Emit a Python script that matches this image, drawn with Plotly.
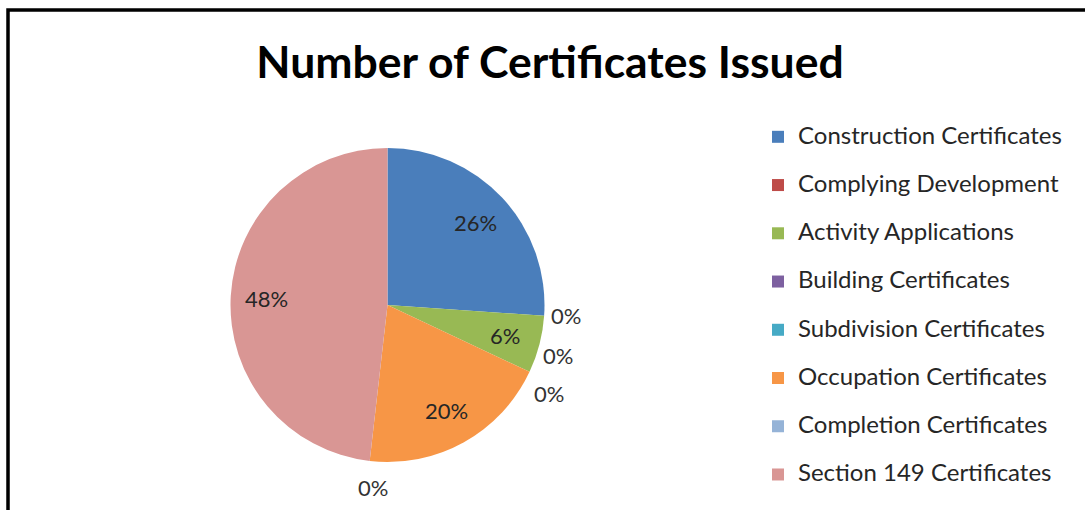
import math
import plotly.graph_objects as go

# Certificates issued, by type
categories = [
    "Construction Certificates",
    "Complying Development",
    "Activity Applications",
    "Building Certificates",
    "Subdivision Certificates",
    "Occupation Certificates",
    "Completion Certificates",
    "Section 149 Certificates",
]
counts = [137, 0, 31, 0, 0, 104, 0, 253]
colors = ["#4A7EBB", "#BE4B48", "#98B954", "#7D60A0", "#46AAC5", "#F79646", "#95B3D7", "#D99694"]

W, H = 1085, 510
total = sum(counts)

# pie geometry in pixels (centre and radius)
cx, cy, r = 387.5, 305, 157

# legend entries: a second, blank line gives each entry its taller row
legend_labels = [f'<span style="font-size:24px">{c}</span><br> ' for c in categories]

fig = go.Figure()
fig.add_trace(go.Pie(
    labels=legend_labels,
    values=counts,
    sort=False,
    direction="clockwise",
    rotation=0,
    marker=dict(colors=colors, line=dict(width=0)),
    textinfo="none",
    domain=dict(x=[(cx - r) / W, (cx + r) / W], y=[(H - cy - r) / H, (H - cy + r) / H]),
    hoverinfo="percent",
))

label_font = dict(family="Lato, sans-serif", size=22, color="#262626")


def pct(v):
    return f"{round(100 * v / total)}%"


# percentage labels for the filled slices, set at 0.77 of the radius
# along each slice's middle angle (clockwise from 12 o'clock)
cum = 0
for v in counts:
    if v > 0:
        theta = 2 * math.pi * (cum + v / 2) / total
        px = cx + 0.77 * r * math.sin(theta)
        py = cy - 0.77 * r * math.cos(theta)
        fig.add_annotation(
            x=px / W, y=1 - py / H, xref="paper", yref="paper",
            xanchor="center", yanchor="middle",
            text=pct(v), showarrow=False, font=label_font,
        )
    cum += v

# labels for the empty slices, spread just outside the rim
zero_label_pos = {1: (566, 315), 3: (558, 355), 4: (549, 393), 6: (373, 487)}
for i, (px, py) in zero_label_pos.items():
    fig.add_annotation(
        x=px / W, y=1 - py / H, xref="paper", yref="paper",
        xanchor="center", yanchor="middle",
        text=pct(counts[i]), showarrow=False,
        font=dict(family="Lato, sans-serif", size=22, color="#333333"),
    )

fig.update_layout(
    width=W, height=H,
    margin=dict(l=0, r=0, t=0, b=0, autoexpand=False),
    paper_bgcolor="white",
    plot_bgcolor="white",
    title=dict(
        text="<b>Number of Certificates Issued</b>",
        x=550 / W, xanchor="center", y=1 - 62 / H, yanchor="middle",
        font=dict(family="Lato, sans-serif", size=44.5, color="black"),
    ),
    legend=dict(
        x=758 / W, xanchor="left", y=1 - 119 / H, yanchor="top",
        font=dict(family="Lato, sans-serif", size=17.4, color="#262626"),
        bgcolor="rgba(0,0,0,0)",
        itemwidth=30,
        valign="top",
    ),
    shapes=[dict(
        type="rect", xref="paper", yref="paper",
        x0=8 / W, x1=1.02, y0=-0.05, y1=1 - 10 / H,
        line=dict(color="black", width=3.5),
    )],
)

fig.write_html("out.html")
